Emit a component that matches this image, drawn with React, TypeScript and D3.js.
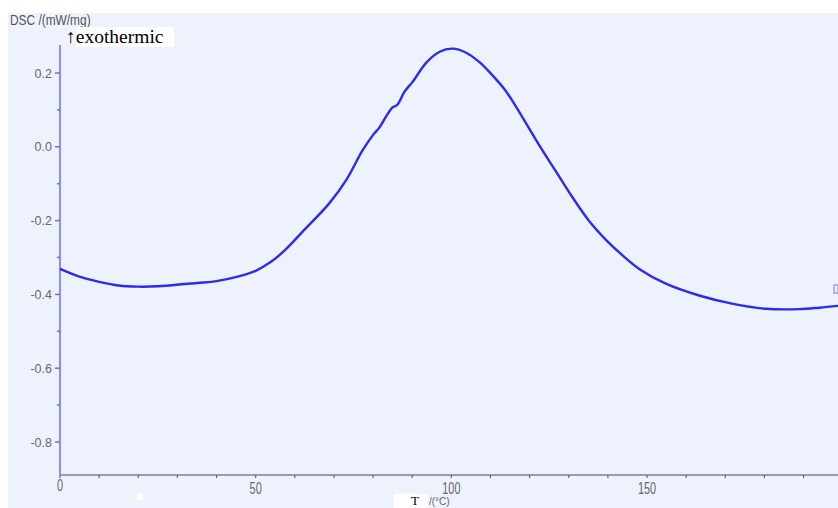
import { useEffect, useRef } from "react"
import * as d3 from "d3"

// DSC curve: temperature (°C) and heat flow (mW/mg)
const temps = [0, 5, 10, 15, 19.9, 25, 32.7, 40, 45.4, 50, 54, 57.4, 62, 68.9, 73.2, 77.3, 80.2, 81.6, 83.5, 84.9, 86.2, 88.0, 90.1, 93.6, 96.9, 100.3, 103.8, 107.1, 109.7, 114.0, 118.1, 122.4, 126.8, 130.9, 135.2, 139.5, 143.6, 148.0, 154.8, 163.3, 171.7, 180.4, 188.8, 194, 198.8]
const dsc = [-0.331, -0.352, -0.366, -0.376, -0.379, -0.378, -0.371, -0.364, -0.352, -0.336, -0.311, -0.281, -0.230, -0.152, -0.089, -0.010, 0.035, 0.052, 0.085, 0.106, 0.114, 0.149, 0.176, 0.228, 0.257, 0.266, 0.255, 0.230, 0.203, 0.150, 0.081, 0.005, -0.068, -0.136, -0.201, -0.252, -0.293, -0.331, -0.371, -0.403, -0.425, -0.439, -0.440, -0.436, -0.431]

const xMajor = [0, 50, 100, 150]
const yMajor = [0.2, 0.0, -0.2, -0.4, -0.6, -0.8]

export default function App() {
  const ref = useRef<SVGSVGElement>(null)

  useEffect(() => {
    const svg = d3.select(ref.current)
    svg.selectAll("*").remove()

    const x = d3.scaleLinear().domain([0, 198.8]).range([60, 838])
    const y = d3.scaleLinear().domain([0.2, -0.8]).range([73, 442])
    const yBottom = 475
    const yTop = 45

    // plot background
    svg.append("rect").attr("x", 8).attr("y", 13).attr("width", 830).attr("height", 495).attr("fill", "#eef2fc")

    // y axis
    svg.append("line").attr("x1", 60).attr("x2", 60).attr("y1", yTop).attr("y2", yBottom)
      .attr("stroke", "#6a6aff").attr("stroke-width", 1.5)
    const yMinor = d3.range(-8, 3).map(d => d / 10)
    svg.selectAll(".ymin").data(yMinor).enter().append("line")
      .attr("x1", d => (Math.round(d * 10) % 2 === 0 ? 55 : 57)).attr("x2", 60)
      .attr("y1", d => y(d)).attr("y2", d => y(d))
      .attr("stroke", "#6a6aff").attr("stroke-width", 1.5)
    svg.selectAll(".ylab").data(yMajor).enter().append("text")
      .attr("x", 52).attr("y", d => y(d) + 4.5)
      .attr("text-anchor", "end")
      .style("font-family", "Liberation Sans, Arial, sans-serif")
      .style("font-size", "12.5px")
      .style("fill", "#666")
      .text(d => d3.format(".1f")(d).replace("−", "-"))

    // x axis
    svg.append("line").attr("x1", 60).attr("x2", 838).attr("y1", yBottom).attr("y2", yBottom)
      .attr("stroke", "#7c7ca8").attr("stroke-width", 1.5)
    const xMinor = d3.range(0, 200, 10)
    svg.selectAll(".xmin").data(xMinor).enter().append("line")
      .attr("x1", d => x(d)).attr("x2", d => x(d))
      .attr("y1", yBottom).attr("y2", yBottom + 3)
      .attr("stroke", "#666").attr("stroke-width", 1.2)
    svg.selectAll(".xlab").data(xMajor).enter().append("text")
      .attr("transform", d => `translate(${x(d)},${d === 0 ? 491 : 494}) scale(0.78,1.2)`)
      .attr("text-anchor", "middle")
      .style("font-family", "Liberation Sans, Arial, sans-serif")
      .style("font-size", "14px")
      .style("fill", "#666")
      .text(d => d)

    // curve
    const line = d3.line<number>()
      .x((_, i) => x(temps[i]))
      .y(d => y(d))
      .curve(d3.curveCatmullRom.alpha(0.5))
    svg.append("path").datum(dsc)
      .attr("d", line)
      .attr("fill", "none")
      .attr("stroke", "#2b2bf2")
      .attr("stroke-width", 2.4)

    // axis titles
    svg.append("text").attr("transform", "translate(10,25) scale(0.85,1)")
      .style("font-family", "Liberation Sans, Arial, sans-serif")
      .style("font-size", "14px")
      .style("fill", "#555")
      .text("DSC /(mW/mg)")
    svg.append("rect").attr("x", 76).attr("y", 27).attr("width", 98).attr("height", 20).attr("fill", "#fff")
    svg.append("text").attr("x", 66).attr("y", 43)
      .style("font-family", "Liberation Serif, Times New Roman, serif")
      .style("font-size", "19.5px")
      .style("fill", "#000")
      .text("↑exothermic")

    svg.append("rect").attr("x", 137).attr("y", 494).attr("width", 6).attr("height", 6).attr("fill", "#fff")
    svg.append("rect").attr("x", 394).attr("y", 494).attr("width", 34).attr("height", 14).attr("fill", "#fff")
    svg.append("text").attr("x", 411).attr("y", 505)
      .style("font-family", "Liberation Serif, Times New Roman, serif")
      .style("font-size", "13px")
      .style("fill", "#000")
      .text("T")
    svg.append("text").attr("x", 429).attr("y", 505)
      .style("font-family", "Liberation Sans, Arial, sans-serif")
      .style("font-size", "10px")
      .style("fill", "#666")
      .text("/(°C)")

    // small marker at right edge
    svg.append("rect").attr("x", 834).attr("y", 285).attr("width", 4).attr("height", 8)
      .attr("fill", "none").attr("stroke", "#8a8af0").attr("stroke-width", 1.2)
  }, [])

  return (
    <div style={{ position: "absolute", left: 0, top: 0 }}>
      <svg ref={ref} width={838} height={508} style={{ display: "block" }} />
    </div>
  )
}
